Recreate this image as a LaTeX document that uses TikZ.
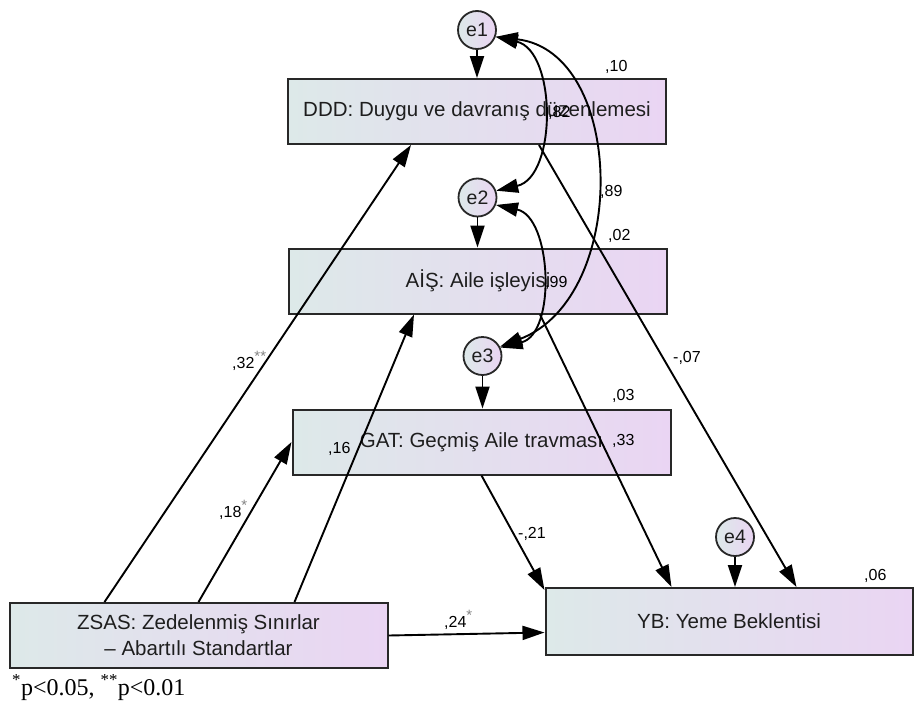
\documentclass[tikz,border=0pt]{standalone}
\usepackage{fontspec}
\setmainfont{Liberation Sans}
\newfontfamily\notefont{Liberation Serif}
\usetikzlibrary{arrows.meta,calc}
\definecolor{boxL}{RGB}{221,233,233}
\definecolor{boxR}{RGB}{234,213,243}
\definecolor{edge}{RGB}{40,40,40}
\definecolor{ink}{RGB}{30,30,30}
\definecolor{star}{RGB}{130,130,130}
% grey significance stars, raised above the estimate
\newcommand{\sig}[1]{\raisebox{6.5pt}{\fontsize{15}{15}\selectfont\color{star}#1}}

\begin{document}
\begin{tikzpicture}[x=1pt,y=-1pt,
  varbox/.style={draw=edge, line width=2pt, left color=boxL, right color=boxR,
    minimum width=378pt, minimum height=65pt, inner sep=0pt, text=ink,
    font=\fontsize{20.5}{26}\selectfont, align=center},
  errc/.style={circle, draw=edge, line width=1.8pt, left color=boxL, right color=boxR,
    minimum size=38pt, inner sep=0pt, text=ink, font=\fontsize{19.5}{22}\selectfont},
  link/.style={line width=1.9pt, -{Triangle[length=22pt,width=14pt]}},
  cov/.style={line width=1.9pt, {Triangle[length=22pt,width=14pt]}-{Triangle[length=22pt,width=14pt]}},
  est/.style={font=\fontsize{16}{18}\selectfont, text=black, inner sep=0pt, anchor=base west}
]
\useasboundingbox (0,0) rectangle (915,704);

% observed variables
\node[varbox] (ddd) at (477,111.5) {DDD: Duygu ve davranış düzenlemesi};
\node[varbox] (ais) at (478,281) {AİŞ: Aile işleyisi};
\node[varbox] (gat) at (481.5,442) {GAT: Geçmiş Aile travması};
\node[varbox] (zsas) at (198.5,635.5) {ZSAS: Zedelenmiş Sınırlar\\– Abartılı Standartlar};
\node[varbox, minimum width=367pt, minimum height=67pt] (yb) at (729,621.5) {YB: Yeme Beklentisi};

% error terms
\node[errc] (e1) at (477,30) {e1};
\node[errc] (e2) at (477.5,197.5) {e2};
\node[errc] (e3) at (482.5,356) {e3};
\node[errc] (e4) at (735,537) {e4};

% error paths
\draw[link] (e1) -- (e1 |- ddd.north);
\draw[link] (e2) -- (e2 |- ais.north);
\draw[link] (e3) -- (e3 |- gat.north);
\draw[link] (e4) -- (e4 |- yb.north);

% structural paths
\draw[link] ($(zsas.north west)+(96,0)$) -- ($(ddd.south west)+(124,0)$);
\draw[link] ($(zsas.north west)+(190,0)$) -- (gat.west);
\draw[link] ($(zsas.north west)+(286,0)$) -- ($(ais.south west)+(126,0)$);
\draw[link] (zsas.east) -- ($(yb.west)+(0,11)$);
\draw[link] (gat.south) -- ($(yb.north west)+(0,3)$);
\draw[link] ($(ais.south west)+(252,0)$) -- ($(yb.north west)+(127,0)$);
\draw[link] ($(ddd.south west)+(252,0)$) -- ($(yb.north west)+(252,0)$);

% error covariances
\draw[cov] (e1.-20) .. controls +(61,14) and +(61,-14) .. (e2.20);
\draw[cov] (e1.-20) .. controls +(130,15) and +(130,-50) .. (e3.28);
\draw[cov] (e2.-22) .. controls +(56,12) and +(56,-14) .. (e3.25);

% estimates
\node[est] (r1) at (605,71) {,10};
\node[est] (r2) at (608,240) {,02};
\node[est] (r3) at (612,400) {,03};
\node[est] (r4) at (864,580) {,06};
\node[est] (c12) at (548,117) {,82};
\node[est] (c13) at (600,196) {,89};
\node[est] (c23) at (545,287) {,99};
\node[est] (b1) at (232,368) {,32\sig{**}};
\node[est] (b2) at (219,517) {,18\sig{*}};
\node[est] (b3) at (328,453) {,16};
\node[est] (b4) at (444,627) {,24\sig{*}};
\node[est] (b5) at (518,538) {-,21};
\node[est] (b6) at (612,445) {,33};
\node[est] (b7) at (673,362) {-,07};

% significance note
\node[anchor=base west, inner sep=0pt, font=\notefont\fontsize{24}{26}\selectfont] (note) at (12,695)
  {\textsuperscript{*}p<0.05, \textsuperscript{**}p<0.01};
\end{tikzpicture}
\end{document}
